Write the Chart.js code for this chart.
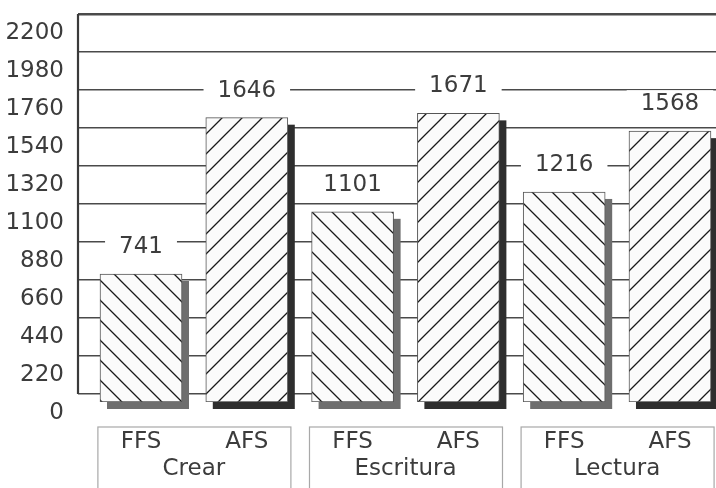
<!DOCTYPE html>
<html>
<head>
<meta charset="utf-8">
<script src="https://cdn.jsdelivr.net/npm/chart.js@4.4.0/dist/chart.umd.min.js"></script>
<style>
html, body { margin: 0; padding: 0; background: #fff; }
#wrap { width: 716px; height: 488px; position: relative; }
</style>
</head>
<body>
<div id="wrap"><canvas id="chart"></canvas></div>
<script>
var categories = ['Crear', 'Escritura', 'Lectura'];
var seriesNames = ['FFS', 'AFS'];
var ffsValues = [741, 1101, 1216];
var afsValues = [1646, 1671, 1568];
var yTicks = [0, 220, 440, 660, 880, 1100, 1320, 1540, 1760, 1980, 2200];

var FONT = "'DejaVu Sans', sans-serif";
var TEXT = '#3c3c3c';
var DEPTH = 46.3;          // back wall offset (in value units), about 8px
var shadowColors = ['#6e6e6e', '#2e2e2e'];

// hatch fill, '\\' for FFS and '/' for AFS
function hatch(dir) {
    var s = 20;
    var c = document.createElement('canvas');
    c.width = s; c.height = s;
    var g = c.getContext('2d');
    g.fillStyle = '#fbfbfb';
    g.fillRect(0, 0, s, s);
    g.strokeStyle = '#1a1a1a';
    g.lineWidth = 1.3;
    g.beginPath();
    if (dir === '\\') {
        g.moveTo(-2, -2); g.lineTo(s + 2, s + 2);
        g.moveTo(-2, s - 2); g.lineTo(2, s + 2);
        g.moveTo(s - 2, -2); g.lineTo(s + 2, 2);
    } else {
        g.moveTo(-2, s + 2); g.lineTo(s + 2, -2);
        g.moveTo(-2, 2); g.lineTo(2, -2);
        g.moveTo(s - 2, s + 2); g.lineTo(s + 2, s - 2);
    }
    g.stroke();
    return g.createPattern(c, 'repeat');
}

var ffsData = ffsValues.map(function (v, i) { return {x: 2 * i, y: v}; });
var afsData = afsValues.map(function (v, i) { return {x: 2 * i + 1, y: v}; });

var shadowPlugin = {
    id: 'shadow',
    beforeDatasetDraw: function (chart, args) {
        var ctx = chart.ctx;
        ctx.save();
        ctx.fillStyle = shadowColors[args.index];
        args.meta.data.forEach(function (bar) {
            var p = bar.getProps(['x', 'y', 'width', 'base'], true);
            ctx.fillRect(p.x - p.width / 2 + 7, p.y + 7, p.width, p.base - p.y);
        });
        ctx.restore();
    }
};

var axisLinePlugin = {
    id: 'axisLine',
    beforeDatasetsDraw: function (chart) {
        var ctx = chart.ctx, s = chart.scales.y2;
        ctx.save();
        ctx.strokeStyle = '#3a3a3a';
        ctx.lineWidth = 2.2;
        ctx.beginPath();
        ctx.moveTo(chart.chartArea.left, s.getPixelForValue(2200));
        ctx.lineTo(chart.chartArea.left, s.getPixelForValue(0));
        ctx.stroke();
        ctx.restore();
    }
};

var valuePlugin = {
    id: 'values',
    afterDatasetsDraw: function (chart) {
        var ctx = chart.ctx;
        ctx.save();
        ctx.font = '23px ' + FONT;
        ctx.textAlign = 'center';
        ctx.textBaseline = 'middle';
        chart.data.datasets.forEach(function (ds, di) {
            chart.getDatasetMeta(di).data.forEach(function (bar, i) {
                var txt = String(ds.data[i].y);
                var w = ctx.measureText(txt).width;
                var cy = bar.y - 28;
                ctx.fillStyle = '#fff';
                ctx.fillRect(bar.x - w / 2 - 14, cy - 13, w + 28, 26);
                ctx.fillStyle = TEXT;
                ctx.fillText(txt, bar.x, cy + 1);
            });
        });
        ctx.restore();
    }
};

var boxPlugin = {
    id: 'groupBoxes',
    afterDraw: function (chart) {
        var ctx = chart.ctx, s = chart.scales.x2;
        ctx.save();
        ctx.strokeStyle = '#a8a8a8';
        ctx.lineWidth = 1.2;
        categories.forEach(function (c, i) {
            var cx = s.getPixelForValue(2 * i + 0.5);
            ctx.strokeRect(cx - 96, 427, 193, 70);
        });
        ctx.restore();
    }
};

new Chart(document.getElementById('chart'), {
    type: 'bar',
    data: {
        datasets: [{
            label: seriesNames[0],
            data: ffsData,
            backgroundColor: hatch('\\'),
            borderColor: '#555',
            borderWidth: 1,
            borderSkipped: false,
            barThickness: 82,
            grouped: false,
            xAxisID: 'x',
            yAxisID: 'y'
        }, {
            label: seriesNames[1],
            data: afsData,
            backgroundColor: hatch('/'),
            borderColor: '#555',
            borderWidth: 1,
            borderSkipped: false,
            barThickness: 82,
            grouped: false,
            xAxisID: 'x',
            yAxisID: 'y'
        }]
    },
    options: {
        responsive: true,
        maintainAspectRatio: false,
        animation: false,
        layout: {padding: {top: 14, right: 0, bottom: 0, left: 0}},
        plugins: {legend: {display: false}, tooltip: {enabled: false}},
        scales: {
            x: {
                type: 'linear',
                position: 'bottom',
                weight: 0,
                offset: false,
                min: -0.5955,
                max: 5.435,
                grid: {display: false, drawTicks: false},
                border: {display: false},
                afterBuildTicks: function (s) {
                    s.ticks = [0, 1, 2, 3, 4, 5].map(function (v) { return {value: v}; });
                },
                afterFit: function (s) { s.height = 50; s.paddingLeft = 0; s.paddingRight = 0; },
                ticks: {
                    autoSkip: false,
                    maxRotation: 0,
                    padding: 26,
                    color: TEXT,
                    font: {family: FONT, size: 23},
                    callback: function (v) { return seriesNames[v % 2]; }
                }
            },
            x2: {
                type: 'linear',
                position: 'bottom',
                weight: 1,
                offset: false,
                min: -0.5955,
                max: 5.435,
                grid: {display: false, drawTicks: false},
                border: {display: false},
                afterBuildTicks: function (s) {
                    s.ticks = [0.5, 2.5, 4.5].map(function (v) { return {value: v}; });
                },
                afterFit: function (s) { s.height = 36; s.paddingLeft = 0; s.paddingRight = 0; },
                ticks: {
                    autoSkip: false,
                    maxRotation: 0,
                    padding: 3,
                    color: TEXT,
                    font: {family: FONT, size: 23},
                    callback: function (v) { return categories[Math.round((v - 0.5) / 2)]; }
                }
            },
            y: {
                display: false,
                min: 0,
                max: 2200 + DEPTH
            },
            y2: {
                position: 'left',
                min: -DEPTH,
                max: 2200,
                afterBuildTicks: function (s) {
                    s.ticks = yTicks.map(function (v) { return {value: v}; });
                },
                afterFit: function (s) { s.width = 78; s.paddingTop = 0; s.paddingBottom = 0; },
                border: {display: false},
                grid: {
                    drawTicks: false,
                    color: '#4a4a4a',
                    lineWidth: function (c) { return c.tick && c.tick.value === 2200 ? 2.4 : 1.4; }
                },
                ticks: {
                    padding: 14,
                    labelOffset: 19,
                    color: TEXT,
                    font: {family: FONT, size: 23},
                    callback: function (v) { return String(v); }
                }
            }
        }
    },
    plugins: [shadowPlugin, axisLinePlugin, valuePlugin, boxPlugin]
});
</script>
</body>
</html>
